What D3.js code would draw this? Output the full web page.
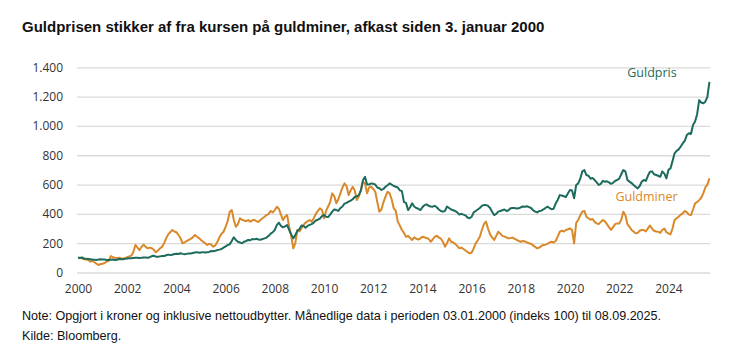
<!DOCTYPE html>
<html>
<head>
<meta charset="utf-8">
<script src="https://cdn.jsdelivr.net/npm/d3@7"></script>
<style>
  html, body { margin: 0; padding: 0; background: #fff; }
  svg { display: block; }
</style>
</head>
<body>
<svg id="chart" width="739" height="364"></svg>
<script>
// ---- DATA (monthly, Jan 2000 .. Sep 2025, index 03.01.2000 = 100) ----
const startYear = 2000;
const guldpris = [
  100, 99, 103, 95, 93, 92, 90, 88, 87, 86, 88, 90,          // 2000
  89, 88, 86, 85, 87, 88, 86, 87, 92, 91, 90, 93,            // 2001
  95, 97, 98, 99, 100, 101, 99, 100, 103, 102, 101, 104,     // 2002
  112, 114, 108, 107, 110, 112, 113, 118, 122, 120, 121, 126,// 2003
  128, 126, 131, 127, 125, 127, 129, 130, 133, 136, 139, 135,// 2004
  137, 139, 136, 138, 140, 147, 145, 148, 153, 156, 160, 170,// 2005
  178, 188, 192, 215, 240, 222, 210, 205, 199, 210, 215, 222,// 2006
  220, 228, 226, 230, 225, 224, 228, 233, 238, 250, 265, 275,// 2007
  290, 325, 340, 318, 308, 315, 324, 290, 260, 233, 255, 285,// 2008
  295, 320, 318, 305, 318, 325, 330, 340, 355, 360, 368, 385,// 2009
  392, 380, 378, 395, 415, 430, 426, 420, 440, 450, 470, 475,// 2010
  483, 490, 500, 515, 520, 528, 560, 630, 653, 600, 600, 608,// 2011
  605, 600, 580, 575, 563, 570, 585, 595, 608, 600, 590, 585,// 2012
  580, 560, 555, 480, 475, 426, 445, 472, 450, 440, 435, 426,// 2013
  445, 460, 465, 455, 450, 449, 455, 445, 430, 420, 415, 420,// 2014
  450, 440, 430, 425, 420, 410, 395, 400, 395, 390, 375, 370,// 2015
  380, 410, 420, 430, 440, 455, 460, 460, 455, 440, 415, 392,// 2016
  400, 415, 420, 425, 430, 420, 425, 438, 440, 440, 436, 438,// 2017
  445, 450, 449, 452, 446, 440, 425, 415, 410, 420, 422, 430,// 2018
  440, 449, 440, 432, 435, 470, 495, 528, 525, 520, 515, 540,// 2019
  563, 560, 506, 597, 608, 640, 690, 699, 665, 660, 640, 645,// 2020
  631, 615, 597, 605, 625, 619, 622, 615, 605, 612, 625, 631,// 2021
  640, 670, 699, 690, 631, 620, 610, 597, 585, 574, 590, 620,// 2022
  631, 625, 660, 687, 690, 670, 665, 660, 653, 690, 675, 642,// 2023
  700, 710, 760, 813, 830, 840, 860, 881, 900, 938, 950, 945,// 2024
  1006, 1030, 1080, 1176, 1160, 1154, 1165, 1199, 1301       // 2025
];
const guldminer = [
  100, 101, 95, 90, 88, 85, 74, 80, 70, 60, 51, 58,          // 2000
  60, 65, 74, 80, 112, 105, 101, 98, 100, 97, 95, 100,       // 2001
  104, 110, 115, 140, 188, 170, 153, 176, 190, 175, 165, 170,// 2002
  165, 155, 138, 150, 165, 175, 200, 233, 260, 275, 290, 280,// 2003
  275, 256, 235, 199, 205, 215, 222, 230, 240, 256, 244, 235,// 2004
  222, 210, 200, 188, 195, 190, 176, 185, 210, 240, 265, 278,// 2005
  312, 350, 415, 426, 360, 312, 330, 370, 360, 355, 350, 358,// 2006
  347, 355, 360, 350, 345, 358, 370, 380, 392, 400, 420, 410,// 2007
  426, 449, 435, 395, 358, 380, 392, 312, 250, 165, 200, 290,// 2008
  280, 300, 324, 340, 350, 358, 347, 370, 400, 420, 438, 426,// 2009
  370, 420, 450, 480, 540, 520, 472, 500, 540, 580, 608, 590,// 2010
  528, 560, 585, 560, 494, 520, 560, 619, 608, 540, 580, 585,// 2011
  570, 551, 480, 415, 430, 480, 517, 551, 540, 500, 438, 420,// 2012
  347, 320, 290, 270, 244, 250, 235, 222, 240, 230, 225, 233,// 2013
  244, 240, 235, 230, 210, 225, 244, 250, 240, 230, 210, 176,// 2014
  200, 233, 210, 205, 195, 180, 165, 170, 160, 150, 140, 131,// 2015
  135, 165, 199, 220, 244, 290, 330, 347, 300, 260, 240, 222,// 2016
  250, 278, 265, 250, 245, 240, 233, 235, 238, 230, 222, 215,// 2017
  210, 215, 212, 205, 200, 195, 185, 175, 165, 170, 180, 188,// 2018
  190, 195, 205, 210, 205, 215, 245, 278, 285, 280, 290, 295,// 2019
  301, 290, 199, 337, 360, 390, 415, 420, 380, 370, 360, 365,// 2020
  345, 335, 330, 345, 358, 350, 330, 310, 290, 310, 330, 335,// 2021
  335, 360, 415, 390, 330, 312, 290, 280, 267, 270, 285, 290,// 2022
  290, 280, 301, 320, 300, 285, 280, 278, 270, 290, 300, 275,// 2023
  267, 260, 300, 358, 370, 380, 395, 404, 420, 410, 395, 392,// 2024
  430, 472, 480, 494, 510, 540, 580, 600, 642                // 2025
];
const yTicks = [0, 200, 400, 600, 800, 1000, 1200, 1400];
const xTicks = [2000, 2002, 2004, 2006, 2008, 2010, 2012, 2014, 2016, 2018, 2020, 2022, 2024];
const seriesNames = ["Guldpris", "Guldminer"];
const titleText = "Guldprisen stikker af fra kursen på guldminer, afkast siden 3. januar 2000";
const noteText = "Note: Opgjort i kroner og inklusive nettoudbytter. Månedlige data i perioden 03.01.2000 (indeks 100) til 08.09.2025.";
const sourceText = "Kilde: Bloomberg.";

// ---- CHART ----
(function () {
const svg = d3.select("#chart");
const teal = "#1c6b5d", orange = "#d9882a";
const mLeft = 78, mRight = 710, mTop = 67.3, mBottom = 272.5;

const x = d3.scaleLinear().domain([2000, 2025.69]).range([mLeft, mRight]);
const y = d3.scaleLinear().domain([0, 1400]).range([mBottom, mTop]);
const locale = d3.formatLocale({decimal: ",", thousands: ".", grouping: [3], currency: ["", " kr"]});
const fmt = locale.format(",d");

function fitText(sel, target, base) {
  const w = sel.node().getComputedTextLength();
  sel.attr("font-size", base * target / w);
}

// title
const t = svg.append("text").attr("x", 22).attr("y", 32)
  .attr("font-family", "Liberation Sans, Arial, sans-serif").attr("font-weight", "bold")
  .attr("font-size", 15).attr("fill", "#111").text(titleText);
fitText(t, 523, 15);

// y axis with gridlines
const yAxis = svg.append("g").attr("transform", `translate(${mLeft - 1},0)`)
  .call(d3.axisLeft(y).tickValues(yTicks).tickSize(-(mRight - mLeft + 1)).tickPadding(14).tickFormat(fmt));
yAxis.select(".domain").remove();
yAxis.selectAll(".tick line").attr("stroke", "#dadada").attr("stroke-width", 1.3);
yAxis.selectAll(".tick text").attr("font-family", "Open Sans, sans-serif").attr("font-size", 12).attr("fill", "#333");

// x axis
const xAxis = svg.append("g").attr("transform", `translate(0,${mBottom})`)
  .call(d3.axisBottom(x).tickValues(xTicks).tickSize(0).tickPadding(12).tickFormat(d3.format("d")));
xAxis.select(".domain").remove();
xAxis.selectAll(".tick text").attr("font-family", "Open Sans, sans-serif").attr("font-size", 12).attr("fill", "#333");

// lines
const line = d3.line().x((d, i) => x(startYear + i / 12)).y(d => y(d)).curve(d3.curveLinear);
svg.append("path").datum(guldminer).attr("d", line).attr("fill", "none")
  .attr("stroke", orange).attr("stroke-width", 2).attr("stroke-linejoin", "round");
svg.append("path").datum(guldpris).attr("d", line).attr("fill", "none")
  .attr("stroke", teal).attr("stroke-width", 2).attr("stroke-linejoin", "round");

// series labels
svg.append("text").attr("x", 652).attr("y", 77).attr("text-anchor", "middle")
  .attr("font-family", "Open Sans, sans-serif").attr("font-size", 12.5).attr("fill", teal).text(seriesNames[0]);
svg.append("text").attr("x", 646.5).attr("y", 200.5).attr("text-anchor", "middle")
  .attr("font-family", "Open Sans, sans-serif").attr("font-size", 12.5).attr("fill", orange).text(seriesNames[1]);

// note and source
const n = svg.append("text").attr("x", 22).attr("y", 320)
  .attr("font-family", "Liberation Sans, Arial, sans-serif").attr("font-size", 12.5).attr("fill", "#111").text(noteText);
fitText(n, 640, 12.5);
const s = svg.append("text").attr("x", 22).attr("y", 340)
  .attr("font-family", "Liberation Sans, Arial, sans-serif").attr("font-size", 12.5).attr("fill", "#111").text(sourceText);
s.attr("font-size", n.attr("font-size"));
})();
</script>
</body>
</html>
